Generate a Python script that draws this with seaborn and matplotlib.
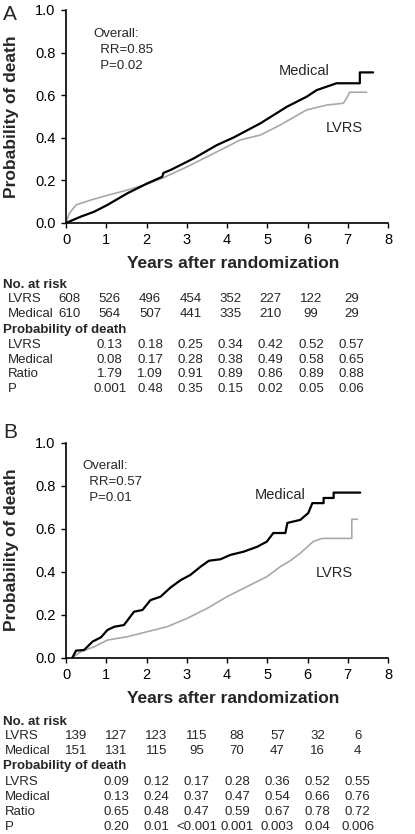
"""Cumulative probability of death after randomization, LVRS vs medical (panels A and B)."""

import matplotlib

matplotlib.use("Agg")
import matplotlib.pyplot as plt
import matplotlib.transforms as mtransforms
import pandas as pd
import seaborn as sns

# ---- panel A curves ----
a_med_years = [0.0, 0.37, 0.70, 1.03, 1.53, 2.02, 2.39, 2.42, 2.60, 3.18, 3.75, 4.17, 4.83,
               5.49, 5.98, 6.23, 6.72, 7.30, 7.30, 7.63]
a_med_prob = [0.0, 0.03, 0.053, 0.085, 0.14, 0.186, 0.217, 0.235, 0.249, 0.304, 0.366, 0.402,
              0.468, 0.546, 0.593, 0.624, 0.656, 0.656, 0.707, 0.707]
a_lvrs_years = [0.0, 0.08, 0.25, 0.62, 1.03, 1.53, 2.02, 2.39, 3.01, 3.59, 4.33, 4.83, 5.32,
                5.98, 6.48, 6.89, 6.97, 7.05, 7.47]
a_lvrs_prob = [0.0, 0.045, 0.085, 0.108, 0.13, 0.155, 0.183, 0.21, 0.264, 0.319, 0.39, 0.413,
               0.46, 0.531, 0.554, 0.562, 0.585, 0.614, 0.614]

# ---- panel B curves ----
b_med_years = [0.16, 0.25, 0.45, 0.66, 0.87, 1.03, 1.20, 1.44, 1.69, 1.90, 2.10, 2.35, 2.60,
               2.85, 3.09, 3.34, 3.55, 3.84, 4.08, 4.41, 4.75, 4.99, 5.15, 5.45, 5.50, 5.82,
               6.02, 6.12, 6.40, 6.40, 6.65, 6.65, 7.31]
b_med_prob = [0.0, 0.032, 0.035, 0.074, 0.094, 0.128, 0.143, 0.151, 0.213, 0.221, 0.267, 0.283,
              0.326, 0.36, 0.384, 0.422, 0.45, 0.457, 0.477, 0.492, 0.515, 0.539, 0.579, 0.579,
              0.626, 0.64, 0.672, 0.718, 0.718, 0.742, 0.742, 0.767, 0.767]
b_lvrs_years = [0.16, 0.37, 0.70, 1.03, 1.53, 2.02, 2.51, 3.01, 3.51, 4.00, 4.50, 4.99, 5.32,
                5.57, 5.82, 6.14, 6.36, 7.10, 7.10, 7.24]
b_lvrs_prob = [0.0, 0.027, 0.05, 0.081, 0.097, 0.12, 0.143, 0.182, 0.229, 0.283, 0.33, 0.376,
               0.422, 0.45, 0.485, 0.539, 0.554, 0.554, 0.643, 0.643]

# ---- tables under each panel ----
risk_years = [0, 1, 2, 3, 4, 5, 6, 7]
prob_years = [1, 2, 3, 4, 5, 6, 7]

a_risk_lvrs = ["608", "526", "496", "454", "352", "227", "122", "29"]
a_risk_med = ["610", "564", "507", "441", "335", "210", "99", "29"]
a_prob_lvrs = ["0.13", "0.18", "0.25", "0.34", "0.42", "0.52", "0.57"]
a_prob_med = ["0.08", "0.17", "0.28", "0.38", "0.49", "0.58", "0.65"]
a_ratio = ["1.79", "1.09", "0.91", "0.89", "0.86", "0.89", "0.88"]
a_p = ["0.001", "0.48", "0.35", "0.15", "0.02", "0.05", "0.06"]

b_risk_lvrs = ["139", "127", "123", "115", "88", "57", "32", "6"]
b_risk_med = ["151", "131", "115", "95", "70", "47", "16", "4"]
b_prob_lvrs = ["0.09", "0.12", "0.17", "0.28", "0.36", "0.52", "0.55"]
b_prob_med = ["0.13", "0.24", "0.37", "0.47", "0.54", "0.66", "0.76"]
b_ratio = ["0.65", "0.48", "0.47", "0.59", "0.67", "0.78", "0.72"]
b_p = ["0.20", "0.01", "<0.001", "0.001", "0.003", "0.04", "0.006"]

W, H = 415, 834


def fy(py):
    """Pixel row (from top) to figure fraction."""
    return 1 - py / H


def draw_panel(fig, top_px, bot_px, letter, letter_y, curves, overall, labels, table, col_shift):
    ax = fig.add_axes([66 / W, fy(bot_px), 322 / W, (bot_px - top_px) / H])
    for years, prob, color, lw in curves:
        df = pd.DataFrame({"year": years, "prob": prob})
        sns.lineplot(data=df, x="year", y="prob", ax=ax, color=color, linewidth=lw,
                     estimator=None)
    ax.set_xlim(0, 8)
    ax.set_ylim(0, 1.0)
    ax.set_xticks(range(9))
    ax.set_yticks([0, 0.2, 0.4, 0.6, 0.8, 1.0])
    ax.set_yticklabels(["0.0", "0.2", "0.4", "0.6", "0.8", "1.0"])
    ax.tick_params(labelsize=10.5, length=3.5, width=1, pad=4)
    sns.despine(ax=ax)
    for side in ("left", "bottom"):
        ax.spines[side].set_linewidth(1.2)
    ax.set_xlabel("Years after randomization", fontsize=12.5, fontweight="bold")
    ax.set_ylabel("Probability of death", fontsize=12.5, fontweight="bold")
    ax.xaxis.set_label_coords(0.52, -0.155)
    ax.yaxis.set_label_coords(-0.147, 0.5)

    fig.text(3 / W, fy(letter_y), letter, fontsize=15, va="center", ha="left")

    ox, oy = overall[0]
    lines = ["Overall:", "  " + overall[1], "  " + overall[2]]
    for i, txt in enumerate(lines):
        fig.text(ox / W, fy(oy + 16 * i), txt, fontsize=9.5, va="center", ha="left")
    for name, (x, y) in labels.items():
        ax.text(x, y, name, fontsize=10.5, ha="center", va="center")

    trans = mtransforms.blended_transform_factory(ax.transData, fig.transFigure)
    rows_y, indent = table["rows_y"], table["indent"]
    fig.text(3 / W, fy(rows_y[0]), "No. at risk", fontsize=9.5, fontweight="bold", va="center")
    fig.text(3 / W, fy(rows_y[3]), "Probability of death", fontsize=9.5, fontweight="bold",
             va="center")
    row_specs = [
        (1, "LVRS", risk_years, table["risk_lvrs"]),
        (2, "Medical", risk_years, table["risk_med"]),
        (4, "LVRS", prob_years, table["prob_lvrs"]),
        (5, "Medical", prob_years, table["prob_med"]),
        (6, "Ratio", prob_years, table["ratio"]),
        (7, "P", prob_years, table["p"]),
    ]
    for row, name, years, vals in row_specs:
        fig.text(indent / W, fy(rows_y[row]), name, fontsize=9.5, va="center")
        for yr, val in zip(years, vals):
            ax.text(yr + col_shift, fy(rows_y[row]), val, transform=trans, fontsize=9.5,
                    ha="center", va="center", clip_on=False)
    return ax


sns.set_style("ticks")
plt.rcParams["font.family"] = ["Liberation Sans", "DejaVu Sans"]
plt.rcParams["axes.edgecolor"] = "black"
plt.rcParams["xtick.color"] = "black"
plt.rcParams["ytick.color"] = "black"

fig = plt.figure(figsize=(W / 100, H / 100), dpi=100)

draw_panel(
    fig, 10, 223, "A", 14,
    [(a_lvrs_years, a_lvrs_prob, "#a8a8a8", 1.2),
     (a_med_years, a_med_prob, "black", 1.6)],
    ((93, 34), "RR=0.85", "P=0.02"),
    {"Medical": (5.92, 0.714), "LVRS": (6.92, 0.446)},
    {"rows_y": [285, 299, 314, 330, 345, 360, 374, 389], "indent": 8,
     "risk_lvrs": a_risk_lvrs, "risk_med": a_risk_med, "prob_lvrs": a_prob_lvrs,
     "prob_med": a_prob_med, "ratio": a_ratio, "p": a_p},
    0.09,
)

draw_panel(
    fig, 442.5, 657.5, "B", 433,
    [(b_lvrs_years, b_lvrs_prob, "#a8a8a8", 1.2),
     (b_med_years, b_med_prob, "black", 1.6)],
    ((82, 466), "RR=0.57", "P=0.01"),
    {"Medical": (5.31, 0.756), "LVRS": (6.67, 0.393)},
    {"rows_y": [722, 736, 751, 766, 782, 797, 812, 827], "indent": 5,
     "risk_lvrs": b_risk_lvrs, "risk_med": b_risk_med, "prob_lvrs": b_prob_lvrs,
     "prob_med": b_prob_med, "ratio": b_ratio, "p": b_p},
    0.25,
)

fig.savefig("out.png", dpi=100)
